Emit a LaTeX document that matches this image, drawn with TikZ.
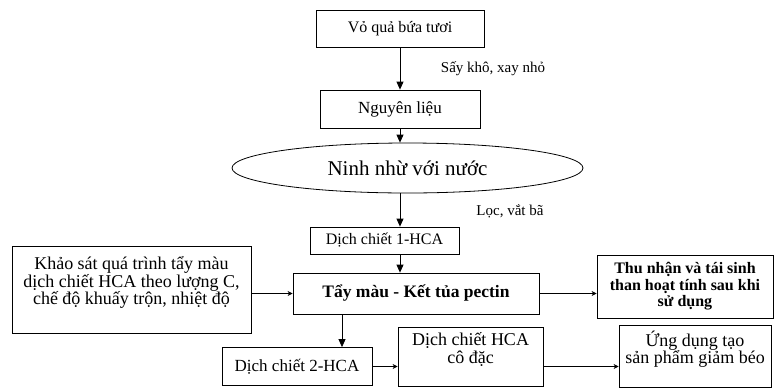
\documentclass[tikz,border=0pt]{standalone}
\usepackage{fontspec}
\setmainfont{Liberation Serif}
\usetikzlibrary{shapes.geometric,arrows.meta,positioning}

\begin{document}
\begin{tikzpicture}[
    x=1pt, y=-1pt,
    every node/.style={font=\fontsize{16}{18}\selectfont},
    box/.style={rectangle, draw, line width=0.8pt, align=center, inner sep=2pt},
    oval/.style={ellipse, draw, line width=0.8pt, inner sep=0pt},
    big/.style={font=\fontsize{18}{17.5}\selectfont},
    note/.style={font=\fontsize{15}{17}\selectfont},
    down/.style={-{Triangle[width=7pt,length=8pt]}, line width=0.8pt},
    side/.style={-{Stealth[width=5pt,length=5pt]}, line width=0.6pt}
]
\useasboundingbox (0,0) rectangle (774,389);

% Main chain
\node[box, minimum width=168, minimum height=37] (fruit) at (400,28.5) {Vỏ quả bứa tươi};
\node[box, minimum width=160, minimum height=38, font=\fontsize{17}{18}\selectfont] (raw) at (400,109) {Nguyên liệu};
\node[oval, minimum width=351, minimum height=50, font=\fontsize{21}{22}\selectfont] (boil) at (407.5,168) {Ninh nhừ với nước};
\node[box, minimum width=149, minimum height=27] (ext1) at (384.5,240.5) {Dịch chiết 1-HCA};
\node[box, minimum width=246, minimum height=41, font=\bfseries\fontsize{17.5}{18}\selectfont] (bleach) at (416,293.5) {Tẩy màu - Kết tủa pectin};

% Side boxes
\node[box, big, minimum width=239, minimum height=87] (survey) at (131.5,289.5) {Khảo sát quá trình tẩy màu\\dịch chiết HCA theo lượng C,\\chế độ khuấy trộn, nhiệt độ\\\mbox{}};
\node[box, minimum width=176, minimum height=63, font=\bfseries\fontsize{16}{16.5}\selectfont] (carbon) at (685,286.5) {Thu nhận và tái sinh\\than hoạt tính sau khi\\sử dụng};

% Bottom row
\node[box, minimum width=150, minimum height=38, font=\fontsize{17}{18}\selectfont] (ext2) at (297,366.5) {Dịch chiết 2-HCA};
\node[box, big, minimum width=145, minimum height=59] (conc) at (470.5,356.5) {Dịch chiết HCA\\cô đặc\\\mbox{}};
\node[box, big, minimum width=152, minimum height=62] (use) at (695,356) {Ứng dụng tạo\\sản phẩm giảm béo\\\mbox{}};

% Step labels
\node[note] (dry) at (493,69) {Sấy khô, xay nhỏ};
\node[note] (filt) at (510,211) {Lọc, vắt bã};

% Arrows
\coordinate (split) at ([xshift=-74pt]bleach.south);
\draw[down] (fruit) -- (raw);
\draw[down] (raw) -- (raw |- boil.north);
\draw[down] (raw |- boil.south) -- (raw |- ext1.north);
\draw[down] (raw |- ext1.south) -- (raw |- bleach.north);
\draw[down] (split) -- (split |- ext2.north);
\draw[side] (survey.east |- bleach) -- (bleach.west);
\draw[side] (bleach.east) -- (carbon.west |- bleach);
\draw[side] (ext2.east) -- (conc.west |- ext2);
\draw[side] (conc.east |- ext2) -- (use.west |- ext2);

\end{tikzpicture}
\end{document}
